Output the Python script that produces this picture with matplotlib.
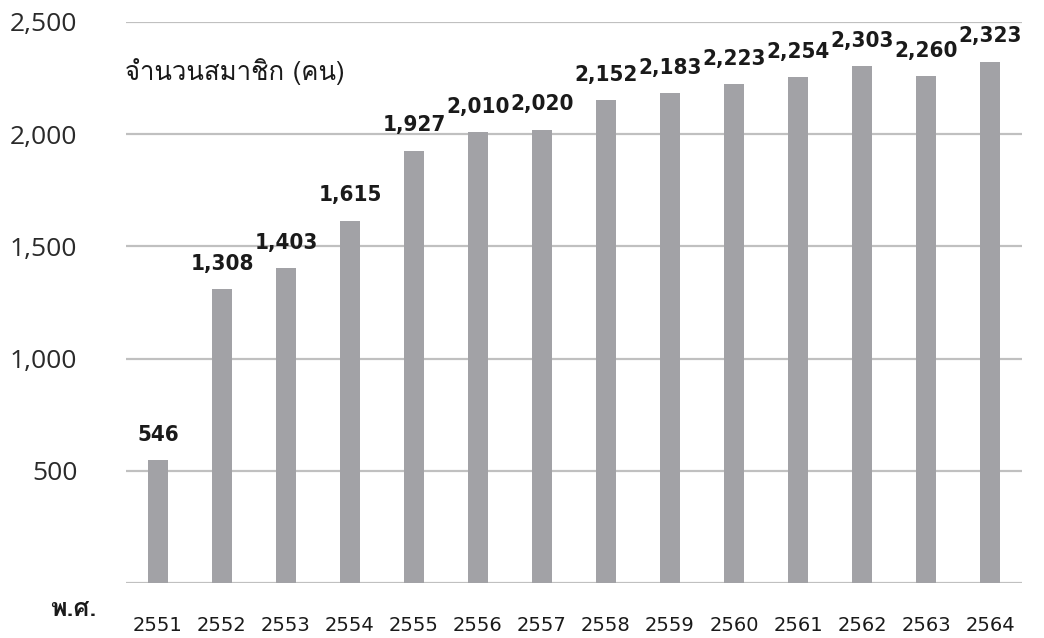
import matplotlib
matplotlib.use('Agg')
import matplotlib.pyplot as plt

years = ['2551', '2552', '2553', '2554', '2555', '2556', '2557',
         '2558', '2559', '2560', '2561', '2562', '2563', '2564']
members = [546, 1308, 1403, 1615, 1927, 2010, 2020,
           2152, 2183, 2223, 2254, 2303, 2260, 2323]
yticks = [500, 1000, 1500, 2000, 2500]

thai = ['Loma', 'DejaVu Sans']

fig = plt.figure(figsize=(10.44, 6.38), dpi=100)
ax = fig.add_axes([126 / 1044, 55 / 638, 896 / 1044, 561 / 638])

x = list(range(len(years)))
bars = ax.bar(x, members, width=0.31, color='#a2a2a6', zorder=2)

ax.set_xlim(-0.5, len(years) - 0.5)
ax.set_ylim(0, 2500)
ax.set_yticks([0] + yticks)
ax.set_yticklabels([''] + [f'{v:,}' for v in yticks], fontsize=19,
                   family='Open Sans', color='#2a2a2a')
ax.set_xticks(x)
ax.set_xticklabels(years, fontsize=14, family='DejaVu Sans', color='#1a1a1a')
ax.tick_params(axis='both', length=0)
ax.tick_params(axis='y', pad=35)
ax.tick_params(axis='x', pad=24)
ax.grid(axis='y', color='#c0c0c0', linewidth=1.6, zorder=0)
for s in ax.spines.values():
    s.set_visible(False)

# value labels above each bar
for b, v in zip(bars, members):
    ax.annotate(f'{v:,}', (b.get_x() + b.get_width() / 2, v),
                xytext=(0, 11), textcoords='offset points',
                ha='center', va='bottom', fontsize=16, fontweight='bold',
                fontstretch='condensed', family='DejaVu Sans', color='#1a1a1a')

fig.text(125 / 1044, 1 - 72 / 638, 'จำนวนสมาชิก (คน)', family=thai,
         fontsize=18.5, va='center', ha='left', color='#1a1a1a')
fig.text(73 / 1044, 1 - 610 / 638, 'พ.ศ.', family=thai, fontsize=18,
         fontweight='bold', va='center', ha='center', color='#1a1a1a')

fig.savefig('out.png', dpi=100)
